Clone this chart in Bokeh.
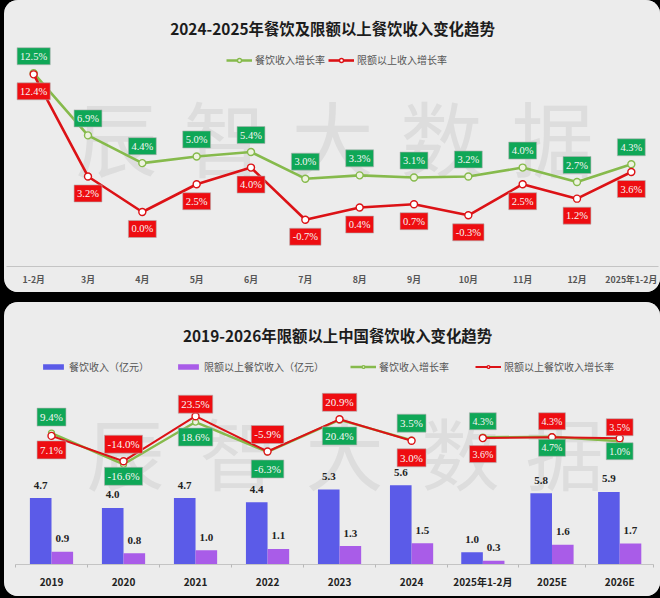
from bokeh.embed import file_html
from bokeh.resources import INLINE
from bokeh.layouts import column
from bokeh.models import (ColumnDataSource, FactorRange, FixedTicker, Label, Legend, LegendItem,
                          Range1d)
from bokeh.plotting import figure

# ---------- data: top chart ----------
months = ["1-2月", "3月", "4月", "5月", "6月", "7月", "8月", "9月", "10月", "11月", "12月", "2025年1-2月"]
food_rate = [12.5, 6.9, 4.4, 5.0, 5.4, 3.0, 3.3, 3.1, 3.2, 4.0, 2.7, 4.3]
above_rate = [12.4, 3.2, 0.0, 2.5, 4.0, -0.7, 0.4, 0.7, -0.3, 2.5, 1.2, 3.6]

# ---------- data: bottom chart ----------
years = ["2019", "2020", "2021", "2022", "2023", "2024", "2025年1-2月", "2025E", "2026E"]
revenue = [4.7, 4.0, 4.7, 4.4, 5.3, 5.6, 1.0, 5.8, 5.9]
above_revenue = [0.9, 0.8, 1.0, 1.1, 1.3, 1.5, 0.3, 1.6, 1.7]
rev_growth = [9.4, -16.6, 18.6, -6.3, 20.4, 3.5, 4.3, 4.7, 1.0]
above_growth = [7.1, -14.0, 23.5, -5.9, 20.9, 3.0, 3.6, 4.3, 3.5]

TITLE_1 = "2024-2025年餐饮及限额以上餐饮收入变化趋势"
TITLE_2 = "2019-2026年限额以上中国餐饮收入变化趋势"
WATERMARK = ["辰", "智", "大", "数", "据"]

# ---------- layout / style (not data) ----------
slot_widths = [1, 1, 1, 1, 1, 1, 0.98, 0.94, 0.94]
green_dy = [-16, 12, 15, 17, 16, -17, -16, 11, 10]
red_dy = [14, -17, -12, -17, -17, 17, 16, -16, -11]

CJK = "Noto Sans CJK SC"
LATIN = "Noto Sans"
PANEL = "#ececec"
GREEN_LINE = "#86ba4c"
RED_LINE = "#dc1216"
GREEN_BOX = "#0fa757"
RED_BOX = "#ee0d11"
BLUE = "#5b5be8"
PURPLE = "#a95ce8"
WM = "#dddddd"


def pct(values):
    return [f"{v:.1f}%" for v in values]


def panel(height, bottom, x_range, y_range, top_margin):
    p = figure(width=656, height=height, x_range=x_range, y_range=y_range,
               output_backend="svg", toolbar_location=None, tools="",
               background_fill_color=PANEL, border_fill_color=PANEL,
               min_border_left=2, min_border_right=2, min_border_top=0,
               min_border_bottom=bottom, outline_line_color=None,
               margin=(top_margin, 0, 0, 4),
               styles={"border-radius": "14px", "overflow": "hidden", "background-color": PANEL})
    p.grid.visible = False
    p.yaxis.visible = False
    return p


def rate_labels(p, x, y, text, dy, fill, size, pad, y_range_name=None):
    src = ColumnDataSource(dict(x=x, y=y, text=text, dy=dy))
    kw = {"y_range_name": y_range_name} if y_range_name else {}
    p.text("x", "y", text="text", source=src, y_offset="dy", text_align="center",
           text_baseline="middle", text_color="#f6f6f6", text_font=LATIN, text_font_size=size,
           background_fill_color=fill, border_line_color="#b0b0b0", border_line_alpha=0.6,
           border_line_width=1, padding=pad, **kw)


def watermark(p, xs, yc, frame_left, frame_bottom, size):
    for ch, x in zip(WATERMARK, xs):
        p.add_layout(Label(x=x - frame_left, y=frame_bottom - yc, x_units="screen", y_units="screen", text=ch,
                           text_font=CJK, text_font_size=size, text_color=WM,
                           text_align="center", text_baseline="middle", level="underlay"))


def title(p, text, x, y, frame_left, frame_bottom):
    p.add_layout(Label(x=x - frame_left, y=frame_bottom - y, x_units="screen", y_units="screen", text=text,
                       text_font=CJK, text_font_size="15.4px", text_font_style="bold", text_color="#1c1c1c",
                       text_align="center", text_baseline="middle"))


# ================= top chart =================
top = panel(292, 26, FactorRange(factors=months, factor_padding=0), Range1d(-4.91, 19.05), 0)
top.x_range.range_padding = 0
watermark(top, [116, 224, 332, 441, 552], 135, 6, 266, "82px")
title(top, TITLE_1, 332, 27, 6, 266)

g1 = top.line(months, food_rate, line_color=GREEN_LINE, line_width=2.6)
g1m = top.scatter(months, food_rate, size=7, marker="circle", line_color=GREEN_LINE, line_width=1.4,
                  fill_color="#eef3df")
r1 = top.line(months, above_rate, line_color=RED_LINE, line_width=2.6)
r1m = top.scatter(months, above_rate, size=7, marker="circle", line_color=RED_LINE, line_width=1.4,
                  fill_color="#ffffff")
rate_labels(top, months, food_rate, pct(food_rate), [-17] * 12, GREEN_BOX, "10.5px", 3)
rate_labels(top, months, above_rate, pct(above_rate), [17] * 12, RED_BOX, "10.5px", 3)

ax = top.xaxis[0]
ax.axis_line_color = "#c4c4c4"
ax.major_tick_line_color = None
ax.major_tick_out = 0
ax.major_tick_in = 0
ax.minor_tick_line_color = None
ax.separator_line_color = None
ax.major_label_text_font = CJK
ax.major_label_text_font_style = "bold"
ax.major_label_text_font_size = "8.8px"
ax.major_label_text_color = "#555555"
ax.major_label_standoff = 6

top.add_layout(Legend(items=[LegendItem(label="餐饮收入增长率", renderers=[g1, g1m]),
                             LegendItem(label="限额以上收入增长率", renderers=[r1, r1m])],
                      orientation="horizontal", location=(220, 199), background_fill_alpha=0,
                      border_line_color=None, padding=0, margin=0, spacing=3, glyph_width=26, glyph_height=10,
                      label_standoff=3, label_text_font=CJK, label_text_font_size="10px",
                      label_text_color="#555555", click_policy="none"))

# ================= bottom chart =================
edges = [0.0]
for w in slot_widths:
    edges.append(round(edges[-1] + w, 2))
centres = [round((a + b) / 2, 3) for a, b in zip(edges[:-1], edges[1:])]
BAR_W = 0.3

bot = panel(294, 32, Range1d(-0.125, 8.929), Range1d(-100.08, 118.25), 10)
bot.extra_y_ranges = {
    "bars": Range1d(0, 18.52),
    "bars_late": Range1d(0, 21.3),
    "rates_late": Range1d(-101.75, 116.6),
}
watermark(bot, [125, 238, 344, 460, 564], 450, 6, 564, "78px")
title(bot, TITLE_2, 337, 334, 6, 564)

split = 6
first = {}
for name, a, b in (("bars", 0, split), ("bars_late", split, 9)):
    xs = centres[a:b]
    blue = bot.vbar([c - BAR_W / 2 for c in xs], top=revenue[a:b], width=BAR_W, bottom=0,
                    fill_color=BLUE, line_color=None, y_range_name=name)
    purple = bot.vbar([c + BAR_W / 2 for c in xs], top=above_revenue[a:b], width=BAR_W, bottom=0,
                      fill_color=PURPLE, line_color=None, y_range_name=name)
    first.setdefault("blue", blue)
    first.setdefault("purple", purple)
    for xx, vals in (([c - BAR_W / 2 for c in xs], revenue[a:b]),
                     ([c + BAR_W / 2 for c in xs], above_revenue[a:b])):
        bot.text(xx, vals, text=[f"{v:.1f}" for v in vals], y_offset=-13, text_align="center",
                 text_baseline="middle", text_color="#222222", text_font=LATIN, text_font_size="11px",
                 text_font_style="bold", y_range_name=name)

for a, b, rn in ((0, split, "default"), (split, 9, "rates_late")):
    xs = centres[a:b]
    g = bot.line(xs, rev_growth[a:b], line_color=GREEN_LINE, line_width=2.4, y_range_name=rn)
    gm = bot.scatter(xs, rev_growth[a:b], size=6, marker="circle", line_color=GREEN_LINE, line_width=1.3,
                     fill_color="#eef3df", y_range_name=rn)
    r = bot.line(xs, above_growth[a:b], line_color=RED_LINE, line_width=2.0, y_range_name=rn)
    rm = bot.scatter(xs, above_growth[a:b], size=7, marker="circle", line_color=RED_LINE, line_width=1.4,
                     fill_color="#ffffff", y_range_name=rn)
    first.setdefault("g", [g, gm])
    first.setdefault("r", [r, rm])
    size = "11px" if a == 0 else "10px"
    rn2 = None if rn == "default" else rn
    rate_labels(bot, xs, rev_growth[a:b], pct(rev_growth[a:b]), green_dy[a:b], GREEN_BOX, size, 3, rn2)
    rate_labels(bot, xs, above_growth[a:b], pct(above_growth[a:b]), red_dy[a:b], RED_BOX, size, 3, rn2)

bax = bot.xaxis[0]
bax.bounds = (0, edges[-1])
bax.ticker = FixedTicker(ticks=centres, minor_ticks=edges)
bax.major_label_overrides = {c: y for c, y in zip(centres, years)}
bax.axis_line_color = "#c4c4c4"
bax.major_tick_line_color = None
bax.major_tick_out = 0
bax.major_tick_in = 0
bax.minor_tick_line_color = "#b8b8b8"
bax.minor_tick_out = 3
bax.minor_tick_in = 0
bax.major_label_text_font = CJK
bax.major_label_text_font_style = "bold"
bax.major_label_text_font_size = "10px"
bax.major_label_text_color = "#222222"
bax.major_label_standoff = 6

bot.add_layout(Legend(items=[LegendItem(label="餐饮收入（亿元）", renderers=[first["blue"]]),
                             LegendItem(label="限额以上餐饮收入（亿元）", renderers=[first["purple"]]),
                             LegendItem(label="餐饮收入增长率", renderers=first["g"]),
                             LegendItem(label="限额以上餐饮收入增长率", renderers=first["r"])],
                      orientation="horizontal", location=(34, 190), background_fill_alpha=0,
                      border_line_color=None, padding=0, margin=0, spacing=26, glyph_width=26, glyph_height=7,
                      label_standoff=3, label_text_font=CJK, label_text_font_size="10px",
                      label_text_color="#555555", click_policy="none"))

page = column(top, bot, spacing=0, width=660, height=598, styles={"background": "#000000"})

open("out.html", "w").write(file_html(page, INLINE))
